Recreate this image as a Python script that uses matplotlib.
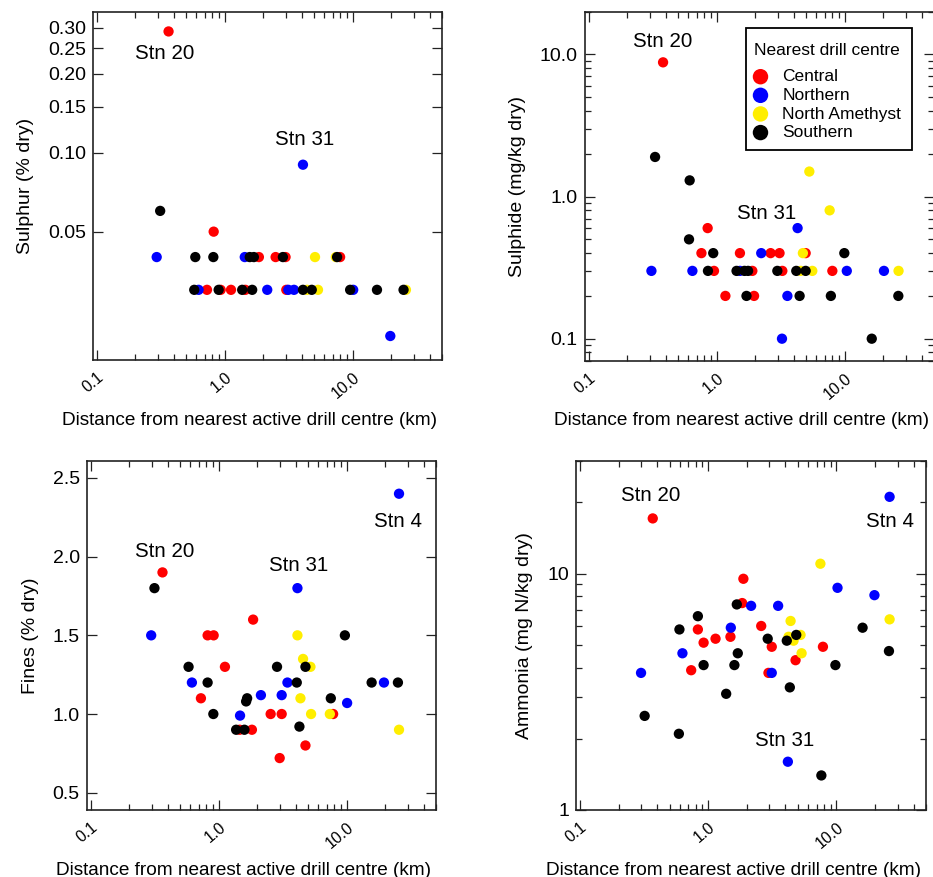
import matplotlib
matplotlib.use('Agg')
import matplotlib.pyplot as plt
from matplotlib.patches import Rectangle
from matplotlib.ticker import FixedLocator, FixedFormatter, LogLocator, NullFormatter, NullLocator
import numpy as np

plt.rcParams['font.family'] = ['Liberation Sans', 'DejaVu Sans']

# drill centre groups: C = Central, N = Northern, A = North Amethyst, S = Southern
group_names = {'C': 'Central', 'N': 'Northern', 'A': 'North Amethyst', 'S': 'Southern'}
group_colors = {'C': '#ff0000', 'N': '#0000ff', 'A': '#ffee00', 'S': '#000000'}
group_order = ['C', 'N', 'A', 'S']

# Sulphur (% dry)
sulphur_dist = [0.364, 4.09, 0.313, 0.82, 19.7,
                0.294, 0.589, 0.815, 1.435, 1.57, 1.69, 1.85, 2.50, 2.99, 2.85, 5.08, 7.39, 7.56, 7.98,
                0.578, 0.625, 0.727, 0.897, 0.93, 1.12, 1.37, 1.45, 1.64, 2.15, 3.03, 3.14, 3.48, 4.09,
                4.40, 4.79, 5.36, 9.56, 10.1, 15.5, 25.0, 26.1]
sulphur_val = [0.29, 0.09, 0.06, 0.05, 0.02,
               0.04, 0.04, 0.04, 0.04, 0.04, 0.04, 0.04, 0.04, 0.04, 0.04, 0.04, 0.04, 0.04, 0.04,
               0.03, 0.03, 0.03, 0.03, 0.03, 0.03, 0.03, 0.03, 0.03, 0.03, 0.03, 0.03, 0.03, 0.03,
               0.03, 0.03, 0.03, 0.03, 0.03, 0.03, 0.03, 0.03]
sulphur_grp = ['C', 'N', 'S', 'C', 'N',
               'N', 'S', 'S', 'N', 'S', 'S', 'C', 'C', 'C', 'S', 'A', 'A', 'S', 'C',
               'S', 'N', 'C', 'S', 'C', 'C', 'S', 'C', 'S', 'N', 'C', 'N', 'N', 'S',
               'A', 'S', 'A', 'S', 'N', 'S', 'S', 'A']

# Sulphide (mg/kg dry)
sulphide_dist = [0.381, 0.33, 0.615, 5.30, 7.64, 0.85, 4.29, 0.608,
                 0.76, 0.94, 1.52, 2.23, 2.64, 3.10, 4.72, 4.96, 9.95,
                 0.309, 0.646, 0.855, 0.953, 1.43, 1.52, 1.65, 1.76, 1.90, 2.98, 3.26, 4.19, 4.53,
                 4.96, 5.59, 8.02, 10.4, 20.3, 26.4,
                 1.17, 1.71, 1.96, 3.57, 4.45, 7.81, 26.3,
                 3.24, 16.3]
sulphide_val = [8.8, 1.9, 1.3, 1.5, 0.8, 0.6, 0.6, 0.5,
                0.4, 0.4, 0.4, 0.4, 0.4, 0.4, 0.4, 0.4, 0.4,
                0.3, 0.3, 0.3, 0.3, 0.3, 0.3, 0.3, 0.3, 0.3, 0.3, 0.3, 0.3, 0.3,
                0.3, 0.3, 0.3, 0.3, 0.3, 0.3,
                0.2, 0.2, 0.2, 0.2, 0.2, 0.2, 0.2,
                0.1, 0.1]
sulphide_grp = ['C', 'S', 'S', 'A', 'A', 'C', 'N', 'S',
                'C', 'S', 'C', 'N', 'C', 'C', 'A', 'C', 'S',
                'N', 'N', 'S', 'C', 'S', 'N', 'S', 'S', 'C', 'S', 'C', 'S', 'A',
                'S', 'A', 'C', 'N', 'N', 'A',
                'C', 'S', 'C', 'N', 'S', 'S', 'S',
                'N', 'S']

# Fines (% dry)
fines_dist = [25.7, 0.364, 0.315, 4.13, 0.297, 1.86, 0.82, 0.914, 4.13, 9.70,
              4.57, 0.582, 1.12, 2.86, 4.77, 5.22, 0.618, 0.82, 3.45, 4.08,
              15.7, 19.6, 25.2, 0.727, 1.67, 1.64, 2.14, 3.11, 4.36, 7.53,
              10.1, 0.909, 1.47, 2.55, 3.11, 5.28, 7.40, 7.85, 4.28, 1.37,
              1.59, 1.46, 1.82, 25.7, 4.77, 3.0]
fines_val = [2.40, 1.90, 1.80, 1.80, 1.50, 1.60, 1.50, 1.50, 1.50, 1.50,
             1.35, 1.30, 1.30, 1.30, 1.30, 1.30, 1.20, 1.20, 1.20, 1.20,
             1.20, 1.20, 1.20, 1.10, 1.10, 1.08, 1.12, 1.12, 1.10, 1.10,
             1.07, 1.00, 0.99, 1.00, 1.00, 1.00, 1.00, 1.00, 0.92, 0.90,
             0.90, 0.90, 0.90, 0.90, 0.80, 0.72]
fines_grp = ['N', 'C', 'S', 'N', 'N', 'C', 'C', 'C', 'A', 'S',
             'A', 'S', 'C', 'S', 'S', 'A', 'N', 'S', 'N', 'S',
             'S', 'N', 'S', 'C', 'S', 'S', 'N', 'N', 'A', 'S',
             'N', 'S', 'N', 'C', 'C', 'A', 'A', 'C', 'S', 'S',
             'S', 'C', 'C', 'A', 'C', 'C']

# Ammonia (mg N/kg dry)
ammonia_dist = [0.369, 26.0, 7.50, 1.88, 10.2, 19.8, 1.67, 1.84, 2.16, 3.51,
                0.83, 4.39, 26.0, 2.59, 1.50, 0.596, 0.83, 16.0, 4.86, 4.23,
                5.25, 4.63, 4.10, 1.49, 2.91, 1.14, 0.92, 3.13, 7.85, 5.35,
                0.629, 1.70, 25.7, 4.80, 0.92, 1.60, 9.82, 0.736, 0.299, 2.95,
                3.13, 4.33, 1.38, 0.319, 0.590, 4.18, 7.63]
ammonia_val = [17.1, 21.1, 11.0, 9.5, 8.7, 8.1, 7.4, 7.5, 7.3, 7.3,
               6.6, 6.3, 6.4, 6.0, 5.9, 5.8, 5.8, 5.9, 5.5, 5.4,
               5.5, 5.2, 5.2, 5.4, 5.3, 5.3, 5.1, 4.9, 4.9, 4.6,
               4.6, 4.6, 4.7, 4.3, 4.1, 4.1, 4.1, 3.9, 3.8, 3.8,
               3.8, 3.3, 3.1, 2.5, 2.1, 1.6, 1.4]
ammonia_grp = ['C', 'N', 'A', 'C', 'N', 'N', 'S', 'C', 'N', 'N',
               'S', 'A', 'A', 'C', 'N', 'S', 'C', 'S', 'S', 'A',
               'A', 'A', 'S', 'C', 'S', 'C', 'C', 'C', 'C', 'A',
               'N', 'S', 'S', 'C', 'S', 'S', 'S', 'C', 'N', 'C',
               'N', 'S', 'S', 'S', 'S', 'N', 'S']

xlabel = 'Distance from nearest active drill centre (km)'
FS = 14
STN_FS = 14.8

fig = plt.figure(figsize=(9.33, 8.77), dpi=100)


def draw(ax, dist, val, grp):
    dist = np.array(dist)
    val = np.array(val)
    grp = np.array(grp)
    handles = []
    for g in group_order:
        m = grp == g
        h = ax.scatter(dist[m], val[m], s=55, color=group_colors[g], edgecolors='none',
                       label=group_names[g], zorder=3)
        handles.append(h)
    return handles


def style(ax, ylabel):
    ax.set_xscale('log')
    ax.set_xlim(0.093, 50)
    ax.xaxis.set_major_locator(FixedLocator([0.1, 1, 10]))
    ax.xaxis.set_major_formatter(FixedFormatter(['0.1', '1.0', '10.0']))
    ax.xaxis.set_minor_locator(LogLocator(subs=np.arange(2, 10)))
    ax.xaxis.set_minor_formatter(NullFormatter())
    ax.tick_params(which='both', direction='in', top=True, right=True, width=0.9, colors='#222222',
                   labelcolor='k')
    ax.tick_params(which='major', length=7.5)
    ax.tick_params(which='minor', length=4)
    ax.tick_params(axis='y', pad=5, labelsize=FS)
    ax.tick_params(axis='x', pad=7, labelsize=11.5)
    for lab in ax.get_xticklabels():
        lab.set_rotation(40)
        lab.set_rotation_mode('anchor')
        lab.set_ha('right')
        lab.set_va('top')
    for sp in ax.spines.values():
        sp.set_linewidth(1.2)
        sp.set_color('#222222')
    ax.set_xlabel(xlabel, fontsize=13.7)
    ax.xaxis.set_label_coords(0.45, -0.148)
    ax.set_ylabel(ylabel, fontsize=FS, labelpad=10)


# top left: sulphur
ax1 = fig.add_axes([0.0994, 0.5895, 0.3744, 0.3972])
draw(ax1, sulphur_dist, sulphur_val, sulphur_grp)
ax1.set_yscale('log')
ax1.set_ylim(0.0162, 0.345)
ax1.yaxis.set_major_locator(FixedLocator([0.05, 0.10, 0.15, 0.20, 0.25, 0.30]))
ax1.yaxis.set_major_formatter(FixedFormatter(['0.05', '0.10', '0.15', '0.20', '0.25', '0.30']))
ax1.yaxis.set_minor_locator(NullLocator())
style(ax1, 'Sulphur (% dry)')
ax1.text(0.207, 0.881, 'Stn 20', transform=ax1.transAxes, ha='center', va='center', fontsize=STN_FS)
ax1.text(0.608, 0.632, 'Stn 31', transform=ax1.transAxes, ha='center', va='center', fontsize=STN_FS)

# top right: sulphide
ax2 = fig.add_axes([0.6267, 0.5887, 0.3744, 0.3980])
hs = draw(ax2, sulphide_dist, sulphide_val, sulphide_grp)
ax2.set_yscale('log')
ax2.set_ylim(0.07, 20)
ax2.yaxis.set_major_locator(FixedLocator([0.1, 1, 10]))
ax2.yaxis.set_major_formatter(FixedFormatter(['0.1', '1.0', '10.0']))
ax2.yaxis.set_minor_locator(LogLocator(subs=np.arange(2, 10)))
ax2.yaxis.set_minor_formatter(NullFormatter())
style(ax2, 'Sulphide (mg/kg dry)')
ax2.text(0.223, 0.914, 'Stn 20', transform=ax2.transAxes, ha='center', va='center', fontsize=STN_FS)
ax2.text(0.522, 0.423, 'Stn 31', transform=ax2.transAxes, ha='center', va='center', fontsize=STN_FS)

# legend frame drawn separately so the padding matches the original box
ax2.add_patch(Rectangle((0.4622, 0.6029), 0.4756, 0.3513, transform=ax2.transAxes,
                        facecolor='white', edgecolor='k', linewidth=1.3, zorder=4))
leg = ax2.legend(handles=hs, title='Nearest drill centre', loc='upper left',
                 bbox_to_anchor=(0.4535, 0.938), frameon=False,
                 fontsize=12.5, title_fontsize=12.5, markerscale=1.5, labelspacing=0.2,
                 handletextpad=0.8, handlelength=0.9, borderpad=0.55, borderaxespad=0)
leg.set_zorder(5)
leg._legend_box.sep = 8.1

# bottom left: fines
ax3 = fig.add_axes([0.0929, 0.0764, 0.3744, 0.3983])
draw(ax3, fines_dist, fines_val, fines_grp)
ax3.set_ylim(0.39, 2.61)
ax3.yaxis.set_major_locator(FixedLocator([0.5, 1.0, 1.5, 2.0, 2.5]))
ax3.yaxis.set_major_formatter(FixedFormatter(['0.5', '1.0', '1.5', '2.0', '2.5']))
ax3.yaxis.set_minor_locator(NullLocator())
style(ax3, 'Fines (% dry)')
ax3.text(0.223, 0.739, 'Stn 20', transform=ax3.transAxes, ha='center', va='center', fontsize=STN_FS)
ax3.text(0.608, 0.701, 'Stn 31', transform=ax3.transAxes, ha='center', va='center', fontsize=STN_FS)
ax3.text(0.891, 0.827, 'Stn 4', transform=ax3.transAxes, ha='center', va='center', fontsize=STN_FS)

# bottom right: ammonia
ax4 = fig.add_axes([0.6174, 0.0764, 0.3751, 0.3983])
draw(ax4, ammonia_dist, ammonia_val, ammonia_grp)
ax4.set_yscale('log')
ax4.set_ylim(1, 30)
ax4.yaxis.set_major_locator(FixedLocator([1, 10]))
ax4.yaxis.set_major_formatter(FixedFormatter(['1', '10']))
ax4.yaxis.set_minor_locator(LogLocator(subs=np.arange(2, 10)))
ax4.yaxis.set_minor_formatter(NullFormatter())
style(ax4, 'Ammonia (mg N/kg dry)')
ax4.text(0.212, 0.901, 'Stn 20', transform=ax4.transAxes, ha='center', va='center', fontsize=STN_FS)
ax4.text(0.897, 0.827, 'Stn 4', transform=ax4.transAxes, ha='center', va='center', fontsize=STN_FS)
ax4.text(0.597, 0.200, 'Stn 31', transform=ax4.transAxes, ha='center', va='center', fontsize=STN_FS)

fig.savefig('out.png', dpi=100)
